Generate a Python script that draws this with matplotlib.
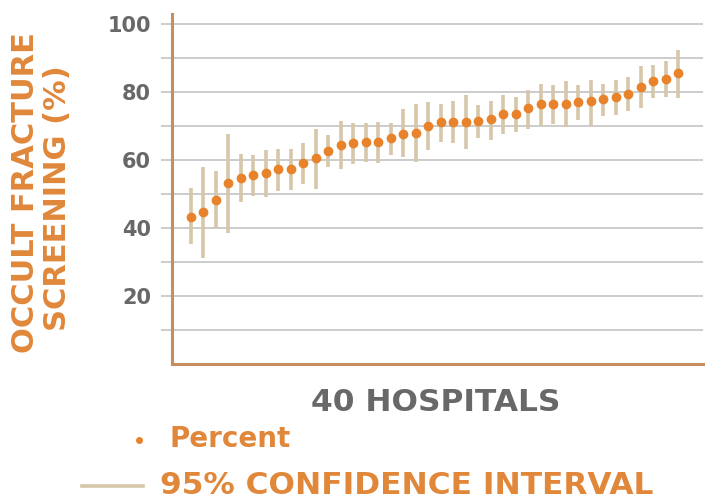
import numpy as np
import matplotlib
matplotlib.use("Agg")
import matplotlib.pyplot as plt
from matplotlib.lines import Line2D

# values (40 hospitals, sorted)
percent = [43.3, 44.6, 48.4, 53.4, 54.8, 55.7, 56.1, 57.4, 57.4, 59.1,
           60.6, 62.8, 64.4, 65.1, 65.3, 65.2, 66.4, 67.6, 68.1, 70.0,
           71.1, 71.2, 71.2, 71.5, 72.0, 73.7, 73.7, 75.2, 76.5, 76.5,
           76.5, 77.1, 77.3, 77.9, 78.6, 79.4, 81.6, 83.3, 84.0, 85.7]
ci_low = [35.2, 31.1, 39.9, 38.6, 47.7, 49.4, 49.0, 51.0, 51.2, 52.9,
          51.4, 58.0, 57.4, 58.8, 59.5, 59.2, 61.5, 60.8, 59.5, 63.1,
          65.4, 64.9, 63.2, 66.6, 66.0, 67.6, 68.3, 69.3, 70.1, 70.6,
          69.8, 71.8, 70.1, 72.9, 73.2, 74.4, 75.4, 78.4, 78.6, 78.4]
ci_high = [51.7, 58.0, 56.8, 67.8, 61.7, 61.5, 62.9, 63.2, 63.4, 65.1,
           69.3, 67.4, 71.5, 71.0, 70.8, 71.3, 70.8, 74.9, 76.4, 77.2,
           76.4, 77.4, 79.1, 76.1, 77.5, 79.1, 78.6, 80.6, 82.4, 82.1,
           83.2, 82.0, 83.5, 82.5, 83.5, 84.5, 87.6, 87.9, 89.1, 92.5]
yticks = [20, 40, 60, 80, 100]
ygrid = [10, 20, 30, 40, 50, 60, 70, 80, 90, 100]

orange = '#e0873a'
dot = '#e8832b'
tan = '#d6c6aa'
spine = '#c68e5e'
gray = '#686868'
grid = '#c4c4c4'

plt.rcParams['font.family'] = ['DejaVu Sans']
plt.rcParams['font.weight'] = 'bold'

fig = plt.figure(figsize=(7.05, 5.01), dpi=100)
ax = fig.add_axes([172 / 705, 137 / 501, 531 / 705, 350 / 501])

x = np.arange(len(percent))
ax.vlines(x, ci_low, ci_high, color=tan, lw=2.6, zorder=3)
ax.plot(x, percent, 'o', ms=6, color=dot, mec=dot, zorder=4)

ax.set_xlim(-1.5, 41.0)
ax.set_ylim(0, 103)
ax.set_xticks([])
ax.set_yticks(ygrid)
ax.set_yticklabels([str(v) if v in yticks else '' for v in ygrid])
ax.tick_params(axis='y', length=8, width=1.2, color=grid, pad=7,
               labelsize=15, labelcolor=gray)
for v in ygrid:
    ax.axhline(v, color=grid, lw=1.2, zorder=1)

for s in ['top', 'right']:
    ax.spines[s].set_visible(False)
ax.spines['left'].set_color(spine)
ax.spines['bottom'].set_color(spine)
ax.spines['left'].set_linewidth(2.2)
ax.spines['bottom'].set_linewidth(2.2)

# axis titles
fig.text(26 / 705, 1 - 193 / 501, 'OCCULT FRACTURE', rotation=90,
         ha='center', va='center', color=orange, fontsize=22, fontweight='bold')
fig.text(58 / 705, 1 - 198 / 501, 'SCREENING (%)', rotation=90,
         ha='center', va='center', color=orange, fontsize=22, fontweight='bold')
fig.text(436 / 705, 1 - 411 / 501, '40 HOSPITALS', ha='center', va='baseline',
         color=gray, fontsize=22.5, fontweight='bold')

# legend drawn by hand
fig.add_artist(Line2D([139 / 705], [1 - 440 / 501], marker='o', ms=4,
                      color=dot, transform=fig.transFigure))
fig.text(170 / 705, 1 - 447 / 501, 'Percent', ha='left', va='baseline',
         color=orange, fontsize=20, fontweight='bold')
fig.add_artist(Line2D([82 / 705, 143 / 705], [1 - 486 / 501, 1 - 486 / 501],
                      lw=2.6, color=tan, transform=fig.transFigure))
fig.text(160 / 705, 1 - 494 / 501, '95% CONFIDENCE INTERVAL', ha='left',
         va='baseline', color=orange, fontsize=22.5, fontweight='bold')

fig.savefig('out.png', dpi=100)
